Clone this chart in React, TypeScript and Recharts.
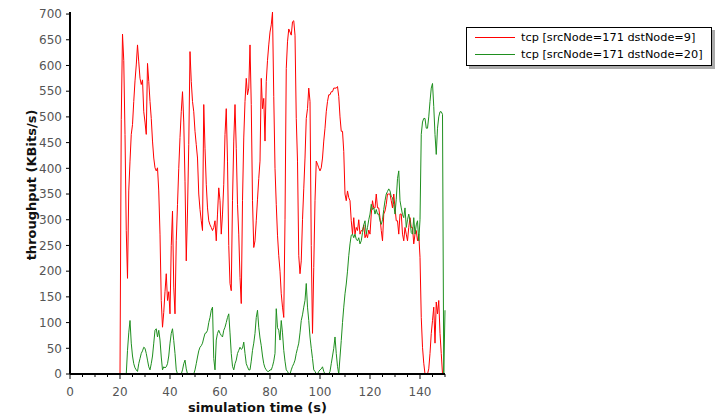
import React from 'react';
import { LineChart, Line, XAxis, YAxis, Legend } from 'recharts';

// samples every half second, starting at t = 20 s
const T0 = 20;
const STEP = 0.5;

const SERIES_NAMES = ['tcp [srcNode=171 dstNode=9]', 'tcp [srcNode=171 dstNode=20]'];

const RED = [
  0, 495, 661, 610, 466, 279, 186, 356, 414, 466,
  485, 530, 570, 601, 640, 607, 575, 563, 572, 510,
  490, 466, 604, 569, 530, 497, 453, 420, 401, 395,
  401, 356, 272, 143, 91, 120, 160, 195, 143, 160,
  117, 250, 317, 169, 117, 259, 330, 400, 460, 510,
  549, 490, 375, 220, 317, 446, 627, 569, 530, 510,
  472, 446, 420, 350, 320, 298, 279, 524, 439, 369,
  323, 298, 290, 285, 279, 285, 298, 259, 311, 362,
  337, 272, 311, 369, 466, 516, 414, 250, 176, 162,
  337, 453, 524, 439, 330, 272, 188, 137, 337, 459,
  530, 575, 543, 556, 640, 524, 337, 246, 259, 298,
  340, 380, 414, 575, 516, 536, 453, 569, 610, 640,
  665, 679, 704, 540, 400, 330, 270, 230, 200, 156,
  130, 110, 300, 594, 646, 671, 665, 659, 685, 687,
  659, 497, 414, 230, 195, 220, 300, 360, 420, 497,
  516, 556, 530, 250, 79, 207, 337, 414, 408, 401,
  395, 401, 420, 453, 478, 510, 530, 543, 543, 549,
  549, 556, 556, 556, 559, 540, 500, 472, 472, 433,
  350, 337, 356, 343, 337, 298, 272, 304, 272, 285,
  279, 300, 272, 279, 279, 290, 265, 272, 265, 280,
  272, 311, 337, 323, 323, 350, 323, 323, 304, 279,
  259, 311, 317, 330, 350, 350, 350, 337, 323, 350,
  323, 298, 298, 272, 311, 311, 272, 259, 285, 272,
  259, 285, 304, 285, 285, 253, 272, 279, 259, 272,
  227, 110, 52, 21, 0, 0, 0, 10, 40, 79,
  104, 130, 60, 140, 117, 143, 79, 40, 0, 0,
  0,
];

const GREEN = [
  null, null, null, null, null, 0, 46, 80, 104, 60,
  35, 20, 12, 8, 5, 20, 30, 40, 45, 52,
  50, 40, 27, 14, 8, 20, 35, 60, 85, 88,
  72, 85, 66, 33, 8, 14, 12, 14, 20, 35,
  60, 79, 88, 65, 40, 8, 0, 0, 0, 0,
  8, 20, 27, 10, 0, 0, 0, 0, 0, 0,
  8, 20, 33, 45, 52, 55, 60, 70, 79, 80,
  85, 100, 110, 124, 130, 30, 8, 66, 79, 85,
  79, 75, 72, 85, 91, 100, 110, 117, 80, 40,
  15, 8, 20, 27, 40, 46, 52, 48, 50, 62,
  40, 20, 14, 8, 8, 25, 46, 60, 79, 110,
  124, 91, 70, 55, 35, 20, 12, 8, 5, 5,
  8, 8, 15, 25, 40, 127, 90, 85, 66, 104,
  80, 46, 25, 8, 5, 0, 0, 8, 15, 20,
  27, 40, 50, 60, 80, 104, 115, 130, 143, 176,
  130, 104, 72, 50, 30, 8, 5, 0, 0, 5,
  8, 10, 14, 5, 0, 0, 0, 0, 5, 20,
  35, 50, 72, 40, 15, 0, 33, 65, 100, 130,
  156, 175, 200, 230, 253, 270, 272, 265, 272, 262,
  259, 265, 253, 259, 275, 290, 298, 272, 285, 300,
  311, 330, 320, 323, 311, 320, 311, 311, 298, 291,
  300, 320, 337, 350, 355, 360, 356, 345, 343, 330,
  311, 340, 380, 395, 337, 323, 310, 304, 323, 285,
  300, 311, 298, 275, 272, 304, 272, 290, 298, 259,
  300, 466, 490, 497, 497, 478, 478, 500, 530, 556,
  565, 520, 466, 427, 478, 500, 510, 510, 505, 0,
  124,
];

const X_TICKS = [0, 5, 10, 15, 20, 25, 30, 35, 40, 45, 50, 55, 60, 65, 70, 75,
  80, 85, 90, 95, 100, 105, 110, 115, 120, 125, 130, 135, 140, 145, 150];
const Y_TICKS = [0, 50, 100, 150, 200, 250, 300, 350, 400, 450, 500, 550, 600, 650, 700];

const data = RED.map((v, i) => ({ t: T0 + i * STEP, red: v, green: GREEN[i] }));

const FONT = '"DejaVu Sans", Verdana, sans-serif';

const XTick = ({ x, y, payload }: any) => {
  const major = payload.value % 20 === 0 && payload.value <= 140;
  return (
    <g>
      <line x1={x} x2={x} y1={y} y2={y + (major ? 5 : 3)} stroke="#000" />
      {major && (
        <text x={x} y={y + 22} textAnchor="middle" fontSize={12} fontFamily={FONT} fill="#555">
          {payload.value}
        </text>
      )}
    </g>
  );
};

const YTitle = ({ viewBox }: any) => {
  const cx = viewBox.x + 31;
  const cy = viewBox.y + viewBox.height / 2 - 8;
  return (
    <text x={cx} y={cy} transform={`rotate(-90 ${cx} ${cy})`} textAnchor="middle"
      dominantBaseline="central" fontSize={13} fontWeight="bold" fontFamily={FONT} fill="#111">
      throughput (KBits/s)
    </text>
  );
};

const XTitle = ({ viewBox }: any) => (
  <text x={viewBox.x + viewBox.width / 2} y={viewBox.y + 38} textAnchor="middle"
    fontSize={13} fontWeight="bold" fontFamily={FONT} fill="#111">
    simulation time (s)
  </text>
);

const LegendBox = ({ payload }: any) => {
  const items = [...(payload || [])].sort(
    (a: any, b: any) => SERIES_NAMES.indexOf(a.value) - SERIES_NAMES.indexOf(b.value));
  return (
    <div style={{
      border: '1px solid #000', boxShadow: '3px 3px 0 #aaa', background: '#fff',
      padding: '1px 8px 2px 8px', fontFamily: FONT, fontSize: 11.3, color: '#000', whiteSpace: 'nowrap',
    }}>
      {items.map((p: any) => (
        <div key={p.value} style={{ display: 'flex', alignItems: 'center', height: 17 }}>
          <span style={{ display: 'inline-block', width: 40, borderTop: `1px solid ${p.color}`, marginRight: 6 }} />
          {p.value}
        </div>
      ))}
    </div>
  );
};

export default function App() {
  return (
    <div style={{ position: 'absolute', left: 0, top: 0, width: 726, height: 418, background: '#fff' }}>
      <LineChart width={726} height={418} data={data} margin={{ top: 12, right: 281, bottom: 14, left: 0 }}>
        <XAxis dataKey="t" type="number" domain={[0, 150]} ticks={X_TICKS} interval={0}
          height={30} tickSize={0} tickMargin={0} tickLine={false} tick={<XTick />}
          axisLine={{ stroke: '#000', strokeWidth: 2 }} label={<XTitle />} />
        <YAxis type="number" domain={[0, 700]} ticks={Y_TICKS} interval={0} width={70}
          tickSize={4} tickMargin={4} tickLine={{ stroke: '#000' }}
          tick={{ fontSize: 12, fontFamily: FONT, fill: '#555' }}
          axisLine={{ stroke: '#000', strokeWidth: 2 }} label={<YTitle />} />
        <Legend layout="vertical" align="center" verticalAlign="middle" content={<LegendBox />}
          wrapperStyle={{ left: 466, top: 27, width: 'auto', height: 'auto' }} />
        <Line type="linear" dataKey="red" name={SERIES_NAMES[0]} stroke="#ff0000" strokeWidth={1}
          dot={false} activeDot={false} isAnimationActive={false} />
        <Line type="linear" dataKey="green" name={SERIES_NAMES[1]} stroke="#1f8f1f" strokeWidth={1}
          dot={false} activeDot={false} isAnimationActive={false} />
      </LineChart>
    </div>
  );
}
